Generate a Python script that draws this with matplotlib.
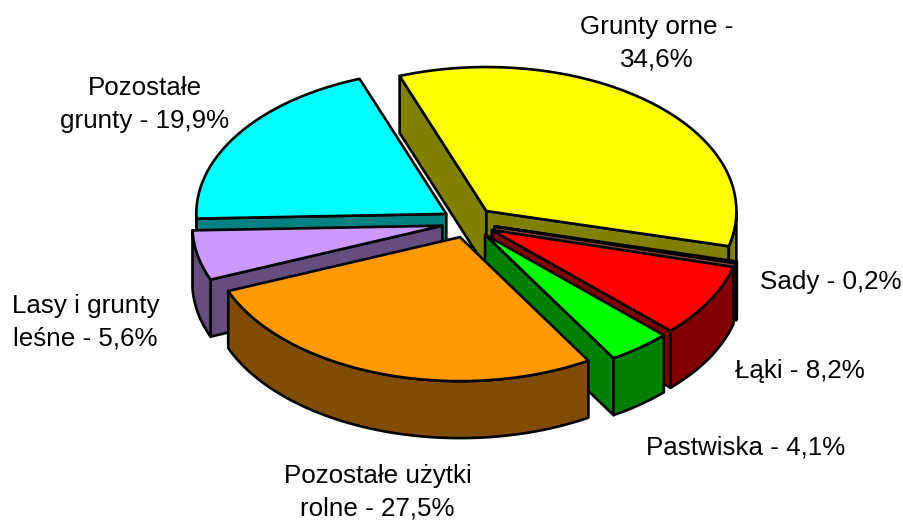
import matplotlib
matplotlib.use("Agg")
import matplotlib.pyplot as plt
import numpy as np

plt.rcParams['font.family'] = ['Liberation Sans', 'DejaVu Sans']

labels = ["Grunty orne -\n34,6%", "Sady - 0,2%", "Łąki - 8,2%", "Pastwiska - 4,1%",
          "Pozostałe użytki\nrolne - 27,5%", "Lasy i grunty\nleśne - 5,6%", "Pozostałe\ngrunty - 19,9%"]
values = [34.6, 0.2, 8.2, 4.1, 27.5, 5.6, 19.9]

top_colors = ["#FFFF00", "#FF8080", "#FF0000", "#00FF00", "#FF9900", "#CC99FF", "#00FFFF"]
side_colors = ["#808000", "#804040", "#800000", "#008000", "#804D00", "#664D80", "#008080"]

# pie geometry in pixels
CX, CY = 468.5, 222.5
RX, RY = 250, 144
DEPTH = 57
EXPLODE = 0.107
START = -20.3
label_pos = [(656.5, 43), (830.5, 282), (799.5, 371), (746, 447), (377.5, 492), (85.5, 322.5), (144.5, 104.5)]


def point(cx, cy, t):
    return cx + RX * np.sin(t), cy - RY * np.cos(t)


def draw_side(ax, xs, ys, color, z):
    xs = np.concatenate([xs, xs[::-1]])
    ys = np.concatenate([ys, ys[::-1] + DEPTH])
    ax.fill(xs, ys, facecolor=color, edgecolor="black", lw=1.9, joinstyle="round", zorder=z)


fig = plt.figure(figsize=(9.04, 5.23), dpi=100)
ax = fig.add_axes([0, 0, 1, 1])
ax.set_xlim(0, 904)
ax.set_ylim(523, 0)
ax.axis("off")

angles = np.cumsum([0] + values) / sum(values) * 2 * np.pi + np.radians(START)
slices = list(range(len(values)))
# back slices first
slices.sort(key=lambda i: -np.cos((angles[i] + angles[i + 1]) / 2))

z = 1
for i in slices:
    t0, t1 = angles[i], angles[i + 1]
    mid = (t0 + t1) / 2
    ax0, ay0 = point(CX, CY, mid)
    cx = CX + EXPLODE * (ax0 - CX)
    cy = CY + EXPLODE * (ay0 - CY)

    # cut faces, only the ones turned towards the viewer
    if np.sin(t0) < 0:
        px, py = point(cx, cy, t0)
        draw_side(ax, np.array([cx, px]), np.array([cy, py]), side_colors[i], z)
    if np.sin(t1) > 0:
        px, py = point(cx, cy, t1)
        draw_side(ax, np.array([cx, px]), np.array([cy, py]), side_colors[i], z)

    # outer wall, front half of the ellipse only
    a, b = max(t0, np.pi / 2), min(t1, 3 * np.pi / 2)
    if b > a:
        tt = np.linspace(a, b, 80)
        wx, wy = point(cx, cy, tt)
        draw_side(ax, wx, wy, side_colors[i], z)

    tt = np.linspace(t0, t1, 160)
    tx, ty = point(cx, cy, tt)
    ax.fill(np.r_[cx, tx], np.r_[cy, ty], facecolor=top_colors[i], edgecolor="black",
            lw=1.9, joinstyle="round", zorder=z)
    z += 1

for lab, (x, y) in zip(labels, label_pos):
    ax.text(x, y, lab, ha="center", va="center", fontsize=18.7, color="black",
            linespacing=1.46, zorder=20)

fig.savefig("out.png", dpi=100)
